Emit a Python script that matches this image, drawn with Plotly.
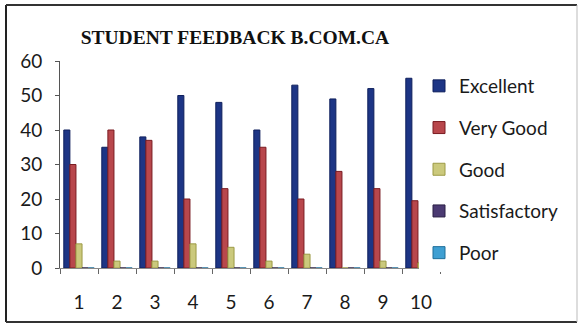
import plotly.graph_objects as go

# Student feedback counts per course (1-10)
courses = ["1", "2", "3", "4", "5", "6", "7", "8", "9", "10"]
excellent = [40, 35, 38, 50, 48, 40, 53, 49, 52, 55]
very_good = [30, 40, 37, 20, 23, 35, 20, 28, 23, 19.5]
good = [7, 2, 2, 7, 6, 2, 4, 0, 2, 1.5]
satisfactory = [0, 0, 0, 0, 0, 0, 0, 0, 0, 0]
poor = [0, 0, 0, 0, 0, 0, 0, 0, 0, 0]

series = [
    ("Excellent", excellent, "#1d3585", "#0e1f5c"),
    ("Very Good", very_good, "#b8474c", "#7a1c22"),
    ("Good", good, "#cbc97c", "#9c9a45"),
    ("Satisfactory", satisfactory, "#4b3a72", "#2a1f45"),
    ("Poor", poor, "#3f9fd2", "#1f6f9a"),
]

fig = go.Figure()
for name, vals, col, edge in series:
    fig.add_trace(go.Bar(
        x=courses, y=vals, name=name, legendgroup=name,
        marker=dict(color=col, line=dict(color=edge, width=1)),
    ))

W, H = 580, 333
L, R, T, B = 60, 140, 61, 65
pw, ph = W - L - R, H - T - B

fig.update_layout(
    width=W, height=H,
    margin=dict(l=L, r=R, t=T, b=B, autoexpand=False),
    paper_bgcolor="white", plot_bgcolor="white",
    barmode="group", bargap=0.2, bargroupgap=0,
    font=dict(family="Lato, Open Sans, sans-serif", size=19, color="#1a1a1a"),
    title=dict(
        text="<b>STUDENT FEEDBACK B.COM.CA</b>",
        font=dict(family="Liberation Serif, serif", size=19.5, color="#111"),
        x=0.405, xanchor="center", y=1 - 37 / H, yanchor="middle",
    ),
    legend=dict(
        x=1 - 21 / pw, xanchor="left", y=1 - 6 / ph, yanchor="top",
        traceorder="grouped", tracegroupgap=14,
        font=dict(size=19), itemwidth=30,
    ),
    showlegend=True,
)

fig.update_yaxes(
    range=[0, 60], dtick=10, showgrid=False, zeroline=False,
    showline=True, linecolor="#555", linewidth=1,
    ticks="outside", ticklen=4, tickcolor="#555",
    ticklabelstandoff=9,
)
fig.update_xaxes(
    showgrid=False, showline=True, linecolor="#888", linewidth=1,
    ticks="outside", ticklen=5, tickcolor="#666", tickson="boundaries",
    ticklabelstandoff=17,
)

# scanned frame around the chart (pixel positions converted to paper units)
def px_x(v):
    return (v - L) / pw

def px_y(v):
    return (H - B - v) / ph

frame = [
    (6, 5, 6, 322, "#222", 2),
    (6, 5, 577, 5, "#333", 2),
    (6, 322, 577, 322, "#333", 2),
    (577, 5, 577, 322, "#bbb", 1),
]
for x0, y0, x1, y1, c, w in frame:
    fig.add_shape(type="line", xref="paper", yref="paper",
                  x0=px_x(x0), y0=px_y(y0), x1=px_x(x1), y1=px_y(y1),
                  line=dict(color=c, width=w))

fig.write_html("out.html", config={"displayModeBar": False},
               post_script="document.body.style.margin='0';")
